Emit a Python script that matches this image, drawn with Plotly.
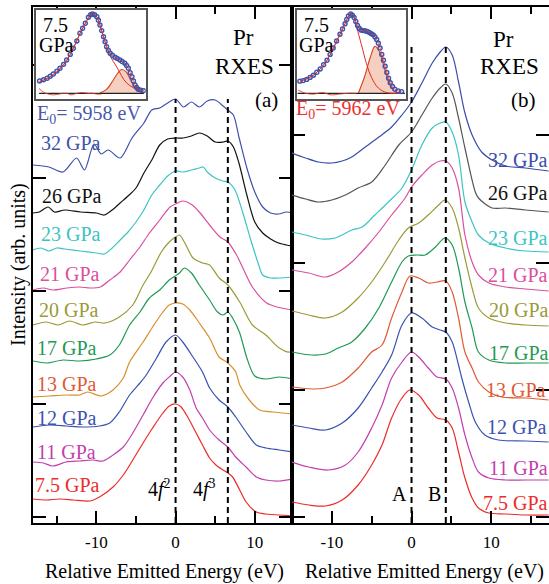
import plotly.graph_objects as go

W, H = 549, 584
FONT = "Liberation Serif, Times New Roman, DejaVu Serif, serif"

# ---------------- Panel (a): E0 = 5958 eV ----------------
labels = ["32 GPa", "26 GPa", "23 GPa", "21 GPa", "20 GPa", "17 GPa", "13 GPa", "12 GPa", "11 GPa", "7.5 GPa"]

a_E_32 = [-18, -16, -14.2, -12.5, -11.5, -10.3, -9.4, -8.5, -7, -5.5, -4, -3, -2, -1, 0, 1, 2, 3, 4, 5, 6, 6.6, 7.3, 8, 9, 10, 11, 12, 13, 14, 14.7]
a_I_32 = [358, 356, 351, 365, 353, 379, 369, 373, 365, 385, 400, 413, 415, 420, 424, 416, 421, 416, 422, 423, 417, 413, 408, 386, 355, 331, 316, 310, 309, 311, 310]
a_E_26 = [-18, -17.2, -16.1, -15.3, -14, -12, -10, -9, -8, -7, -6, -5, -4, -3, -2, -1, 0, 1, 2, 3, 4, 5, 6, 6.6, 7.3, 8, 9, 10, 11, 12, 13, 14, 14.7]
a_I_26 = [310, 311, 316, 311, 313, 311, 310, 308, 313, 320, 327, 335, 350, 363, 378, 384, 385, 385, 387, 390, 387, 381, 381, 382, 376, 360, 328, 301, 290, 284, 280, 278, 277]
a_E_23 = [-18, -17, -16, -15, -14, -12, -10, -9, -8, -7, -6, -5, -4, -3, -2, -1, 0, 1, 2, 3, 3.5, 4, 5, 6, 6.6, 7.5, 8.5, 9.5, 10.5, 11, 12, 13, 14.7]
a_I_23 = [273, 275, 272, 275, 274, 272, 270, 269, 275, 283, 291, 301, 313, 328, 338, 347, 352, 351, 353, 355, 356, 351, 345, 342, 341, 333, 310, 283, 258, 248, 245, 245, 246]
a_E_21 = [-18, -16.7, -15.5, -13.7, -12.1, -10.8, -9.5, -8.3, -7, -5.8, -4.5, -3.3, -2, -0.7, 0, 0.9, 2.1, 3.1, 4.3, 5.6, 6.6, 7.7, 8.5, 9.7, 11.5, 12.8, 14.7]
a_I_21 = [233, 235, 233, 235, 236, 235, 236, 243, 251, 263, 276, 290, 303, 316, 319, 322, 318, 310, 298, 286, 281, 268, 255, 236, 220, 216, 213]
a_E_20 = [-18, -16.3, -14.8, -13.4, -11.7, -10.2, -8.9, -7.1, -5.4, -4.1, -3.1, -1.8, -0.8, 0, 0.5, 1.3, 2.2, 3.4, 4.3, 5.5, 6.6, 8.1, 9.7, 11.4, 13.1, 14.4, 14.8]
a_I_20 = [198, 201, 198, 202, 198, 201, 200, 206, 218, 238, 251, 271, 281, 286, 288, 278, 265, 260, 258, 245, 238, 221, 198, 188, 175, 171, 175]
a_E_17 = [-18, -16.3, -14.2, -12.1, -10, -8.3, -7.1, -5.8, -4.5, -3.3, -2, -0.8, 0.5, 1.1, 2, 3, 4.3, 5.3, 6, 6.6, 7.2, 8.1, 9.0, 10.0, 11.4, 13.1, 14.8]
a_I_17 = [162, 160, 163, 162, 164, 168, 178, 198, 211, 225, 233, 243, 250, 255, 250, 238, 223, 211, 208, 211, 205, 190, 165, 147, 144, 146, 144]
a_E_13 = [-18, -15.9, -13.8, -12.1, -11.1, -9.4, -7.9, -6.6, -5.8, -4.1, -2.9, -1.6, -0.8, 0, 0.9, 1.8, 3.0, 4.3, 5.5, 6.6, 7.6, 8.1, 9.3, 10.6, 12.3, 14.8]
a_I_13 = [126, 127, 128, 128, 131, 127, 133, 145, 161, 181, 196, 211, 218, 220, 219, 213, 200, 185, 166, 160, 151, 138, 123, 113, 111, 109]
a_E_12 = [-18, -15.9, -13.8, -11.7, -9.6, -8.3, -7.1, -5.8, -4.5, -3.7, -2.4, -1.2, 0, 0.9, 2.2, 3.4, 4.3, 5.5, 6.6, 7.6, 8.9, 10.2, 11.4, 13.1, 14.8]
a_I_12 = [96, 98, 97, 96, 97, 100, 111, 128, 140, 148, 165, 181, 188, 181, 166, 151, 135, 123, 116, 106, 91, 78, 75, 73, 71]
a_E_11 = [-18, -16.7, -15.5, -13.8, -12.1, -10.4, -9.2, -7.9, -6.6, -5.4, -4.1, -2.9, -1.6, -0.8, 0, 0.9, 1.8, 2.6, 3.4, 4.3, 5.5, 6.6, 7.6, 8.9, 10.2, 11.4, 13.1, 14.8]
a_I_11 = [61, 60, 57, 61, 62, 63, 62, 68, 76, 90, 108, 125, 140, 146, 151, 146, 133, 115, 105, 93, 83, 76, 66, 56, 46, 43, 42, 44]
a_E_7 = [-18, -16.3, -14.6, -12.9, -10.8, -9.6, -7.9, -6.6, -5.4, -4.1, -2.9, -1.6, -0.8, 0, 0.7, 1.6, 2.6, 3.4, 4.3, 5.1, 6.0, 6.6, 7.2, 8.1, 8.9, 10.2, 11.4, 13.1, 14.8]
a_I_7 = [24, 23, 24, 23, 22, 26, 36, 48, 63, 80, 95, 110, 117, 119, 116, 105, 90, 78, 65, 58, 53, 50, 46, 33, 21, 11, 9, 8, 7]

# ---------------- Panel (b): E0 = 5962 eV ----------------
b_E_32 = [-15, -13.3, -11.7, -10, -8.7, -7.5, -5.8, -4.1, -2.5, -1.2, 0, 1.3, 2.6, 3.6, 4.3, 5.1, 5.9, 6.7, 7.6, 8.8, 10.1, 11.8, 14.3, 17.2]
b_I_32 = [370, 365, 361, 360, 362, 366, 376, 386, 396, 408, 421, 440, 460, 471, 476, 468, 441, 410, 388, 371, 363, 357, 355, 352]
b_E_26 = [-15, -13.3, -11.7, -10, -8.3, -6.7, -5, -3.3, -1.6, 0, 1.3, 2.6, 3.6, 4.3, 5.1, 5.9, 6.7, 8.0, 8.4, 10.1, 11.8, 14.3, 17.2]
b_I_26 = [328, 324, 321, 323, 328, 335, 341, 358, 378, 391, 408, 425, 435, 439, 430, 405, 375, 331, 325, 315, 315, 313, 311]
b_E_23 = [-15, -13.3, -11.3, -9.6, -7.5, -6.2, -4.6, -2.9, -1.2, 0, 1.3, 2.6, 3.6, 4.3, 5.1, 5.9, 6.7, 7.6, 8.4, 9.7, 11.8, 14.3, 17.2]
b_I_23 = [291, 288, 284, 285, 293, 296, 308, 321, 335, 353, 378, 395, 400, 401, 391, 368, 321, 301, 288, 280, 275, 272, 271]
b_E_21 = [-15, -12.9, -10.8, -9.2, -7.5, -5.8, -4.1, -2.5, -0.8, 0, 1.3, 2.6, 3.6, 4.3, 5.1, 5.9, 6.7, 7.6, 8.4, 9.7, 11.8, 14.3, 17.2]
b_I_21 = [253, 250, 246, 251, 261, 275, 291, 308, 325, 336, 348, 358, 362, 362, 355, 335, 288, 261, 248, 240, 236, 234, 232]
b_E_20 = [-15, -12.9, -10.8, -8.7, -6.7, -5.0, -3.3, -1.6, -0.4, 0.9, 2.1, 3.4, 4.2, 5.1, 5.9, 6.7, 7.6, 8.4, 9.7, 11.8, 14.3, 17.2]
b_I_20 = [212, 208, 205, 211, 225, 241, 261, 283, 295, 300, 308, 318, 323, 315, 295, 265, 235, 215, 205, 200, 198, 197]
b_E_17 = [-15, -12.5, -10.8, -9.2, -7.5, -5.8, -4.1, -2.5, -1.2, -0.4, 0.7, 1.7, 3.0, 4.2, 5.1, 5.9, 6.7, 7.6, 8.4, 9.7, 11.8, 14.3, 17.2]
b_I_17 = [171, 168, 169, 175, 181, 195, 215, 241, 261, 267, 268, 268, 276, 285, 278, 255, 221, 195, 171, 163, 160, 160, 160]
b_E_13 = [-15, -12.5, -10.8, -8.7, -6.7, -5.0, -3.7, -2.5, -1.2, -0.2, 0.9, 2.1, 3.2, 4.3, 5.1, 5.9, 6.7, 7.6, 8.4, 9.7, 11.3, 14.3, 17.2]
b_I_13 = [136, 134, 135, 141, 155, 171, 178, 205, 231, 247, 245, 240, 241, 242, 231, 205, 171, 155, 141, 131, 126, 125, 123]
b_E_12 = [-15, -12.9, -10.8, -8.7, -6.7, -5.0, -3.7, -2.5, -1.2, 0, 1.3, 2.6, 3.6, 4.3, 5.1, 5.9, 6.3, 7.2, 8.0, 9.2, 10.9, 14.3, 17.2]
b_I_12 = [98, 95, 93, 100, 115, 135, 151, 168, 198, 210, 205, 196, 193, 191, 181, 158, 145, 120, 101, 88, 83, 82, 81]
b_E_11 = [-15, -12.9, -10.4, -8.3, -6.7, -5, -3.7, -2.5, -1.2, 0, 0.9, 2.1, 3.2, 4.3, 5.1, 5.9, 6.7, 7.6, 8.4, 9.7, 11.8, 14.3, 17.2]
b_I_11 = [61, 56, 53, 58, 71, 95, 118, 145, 161, 171, 166, 155, 146, 144, 135, 115, 88, 65, 51, 45, 43, 43, 43]
b_E_7 = [-15, -12.9, -10.8, -8.7, -6.7, -5, -3.7, -2.5, -1.2, -0.2, 0.9, 2.1, 3.2, 4.3, 5.1, 5.9, 6.7, 7.6, 8.4, 9.7, 11.8, 14.3, 17.2]
b_I_7 = [21, 18, 17, 23, 38, 58, 78, 105, 125, 133, 128, 115, 105, 103, 95, 71, 45, 25, 15, 10, 9, 8, 8]

# ---------------- Insets (7.5 GPa fits) ----------------
ins_a_E = [-11.9, -11.0, -10.2, -9.5, -8.8, -8.0, -7.3, -6.5, -5.8, -5.0, -4.3, -3.5, -2.8, -2.2, -1.6, -0.9, -0.4, 0, 0.5, 1.0, 1.35, 1.7, 2.1, 2.5, 2.85, 3.2, 3.6, 4.0, 4.5, 5.1, 5.6, 6.2, 6.7, 7.3, 7.7, 8.1, 8.5, 8.9, 9.25, 9.6, 9.95, 10.3, 10.9, 11.5]
ins_a_I = [0.155, 0.17, 0.19, 0.215, 0.243, 0.28, 0.315, 0.365, 0.42, 0.49, 0.567, 0.66, 0.757, 0.82, 0.883, 0.958, 0.99, 1.0, 0.99, 0.966, 0.92, 0.861, 0.79, 0.714, 0.65, 0.588, 0.54, 0.504, 0.48, 0.454, 0.44, 0.42, 0.40, 0.378, 0.35, 0.315, 0.26, 0.209, 0.155, 0.105, 0.075, 0.05, 0.04, 0.033]
ins_a_fitA_E = [-12, -8.8, -5.8, -2.8, -1.2, 0, 1.0, 1.7, 2.5, 3.2, 4.0, 5.5, 7.7, 10.7, 11.5]
ins_a_fitA_I = [0.14, 0.23, 0.41, 0.75, 0.92, 1.0, 0.96, 0.86, 0.71, 0.59, 0.47, 0.33, 0.13, 0.03, 0.02]
ins_a_fitB_E = [1.7, 3.2, 4.7, 5.8, 6.6, 7.6, 8.6, 9.6, 10.7, 11.5]
ins_a_fitB_I = [0.008, 0.05, 0.168, 0.26, 0.30, 0.27, 0.168, 0.075, 0.02, 0.01]
ins_a_res_E = [-12, -11.2, -10.5, -9.5, -8.8, -7.5, -6.5, -5.5, -4.8, -3.5, -2.3, -1, 0, 1, 2]
ins_a_res_I = [0.06, 0.02, 0.0, -0.015, -0.02, -0.01, 0.0, -0.005, -0.02, 0.0, 0.01, 0.0, 0.0, -0.01, -0.01]

ins_b_E = [-9.0, -8.4, -7.8, -7.2, -6.6, -6.0, -5.4, -4.8, -4.2, -3.65, -3.1, -2.5, -1.9, -1.45, -1.0, -0.7, -0.4, 0, 0.3, 0.6, 0.9, 1.2, 1.5, 1.8, 2.15, 2.5, 2.9, 3.3, 3.65, 4.0, 4.3, 4.6, 4.9, 5.2, 5.5, 5.8, 6.1, 6.4, 6.7, 7.0, 7.4, 7.8, 8.4, 9.0]
ins_b_I = [0.153, 0.16, 0.175, 0.20, 0.228, 0.265, 0.307, 0.36, 0.416, 0.49, 0.57, 0.66, 0.745, 0.81, 0.876, 0.93, 0.974, 1.0, 0.985, 0.955, 0.905, 0.855, 0.82, 0.797, 0.79, 0.789, 0.78, 0.767, 0.75, 0.737, 0.71, 0.679, 0.63, 0.57, 0.49, 0.416, 0.34, 0.263, 0.19, 0.132, 0.085, 0.053, 0.03, 0.021]
ins_b_fitA_E = [-9.0, -6.6, -4.2, -1.9, -1.0, 0, 0.6, 1.06, 1.9, 2.8, 3.7, 4.9, 6.4, 9.0]
ins_b_fitA_I = [0.153, 0.228, 0.416, 0.745, 0.876, 1.0, 0.96, 0.833, 0.613, 0.372, 0.197, 0.066, 0.008, 0.0]
ins_b_fitB_E = [1.35, 2.5, 3.4, 4.3, 5.2, 6.1, 7.0, 7.8, 9.0]
ins_b_fitB_I = [0.0, 0.218, 0.438, 0.592, 0.504, 0.284, 0.109, 0.021, 0.0]
ins_b_res_E = [-9.3, -8.0, -6.5, -5.0, -3.5, -2.0, -0.5, 1.0]
ins_b_res_I = [0.04, 0.0, -0.01, 0.01, -0.02, -0.01, 0.0, 0.0]

a_ref_lines = [0, 6.6]
b_ref_lines = [0, 4.3]

a_curve_colors = ["#3f51a8", "#111111", "#3cc4c4", "#d9509e", "#9b9a36", "#1f9a52", "#d8902c", "#3a52b0", "#c23fae", "#ee2b2b"]
a_label_colors = ["#3f51a8", "#111111", "#3cc4c4", "#d9509e", "#9b9a36", "#1f9a52", "#e05a35", "#3a52b0", "#c23fae", "#ee2b2b"]
b_curve_colors = ["#3a4ea8", "#555555", "#3cc4c4", "#d9509e", "#9b9a36", "#1f9a52", "#e05a35", "#3a52b0", "#c23fae", "#ee2b2b"]
b_label_colors = ["#3a4ea8", "#111111", "#3cc4c4", "#d9509e", "#9b9a36", "#1f9a52", "#e05a35", "#3a52b0", "#c23fae", "#ee2b2b"]

a_E = [a_E_32, a_E_26, a_E_23, a_E_21, a_E_20, a_E_17, a_E_13, a_E_12, a_E_11, a_E_7]
a_I = [a_I_32, a_I_26, a_I_23, a_I_21, a_I_20, a_I_17, a_I_13, a_I_12, a_I_11, a_I_7]
b_E = [b_E_32, b_E_26, b_E_23, b_E_21, b_E_20, b_E_17, b_E_13, b_E_12, b_E_11, b_E_7]
b_I = [b_I_32, b_I_26, b_I_23, b_I_21, b_I_20, b_I_17, b_I_13, b_I_12, b_I_11, b_I_7]

# label positions (pixels) -- layout only
a_label_x = [39, 40, 39, 38, 37, 35, 35, 35, 35, 33]
a_label_y = [143, 196, 234, 274, 310, 348, 384, 418, 452, 485]
b_label_x = [486, 486, 486, 486, 487, 487, 484, 485, 487, 481]
b_label_y = [160, 193, 238, 275, 310, 353, 390, 427, 468, 503]


def px(x):
    return x / W


def py(y):
    return (H - y) / H


fig = go.Figure()

for E, I, c in zip(a_E, a_I, a_curve_colors):
    fig.add_trace(go.Scatter(x=E, y=I, mode="lines", line=dict(color=c, width=1.2, shape="spline", smoothing=0.8),
                             xaxis="x", yaxis="y", showlegend=False, hoverinfo="skip"))
for E, I, c in zip(b_E, b_I, b_curve_colors):
    fig.add_trace(go.Scatter(x=E, y=I, mode="lines", line=dict(color=c, width=1.2, shape="spline", smoothing=0.9),
                             xaxis="x2", yaxis="y2", showlegend=False, hoverinfo="skip"))


def add_inset(xa, ya, dE, dI, aE, aI, bE, bI, rE, rI, xr):
    fig.add_trace(go.Scatter(x=bE, y=bI, mode="lines", fill="tozeroy", fillcolor="rgba(238,175,150,0.6)",
                             line=dict(color="#d8401e", width=1.1, shape="spline"), xaxis=xa, yaxis=ya,
                             showlegend=False, hoverinfo="skip"))
    fig.add_trace(go.Scatter(x=xr, y=[0, 0], mode="lines", line=dict(color="#222222", width=1.2),
                             xaxis=xa, yaxis=ya, showlegend=False, hoverinfo="skip"))
    fig.add_trace(go.Scatter(x=rE, y=rI, mode="lines", line=dict(color="#e03a20", width=0.9, shape="spline"),
                             xaxis=xa, yaxis=ya, showlegend=False, hoverinfo="skip"))
    fig.add_trace(go.Scatter(x=aE, y=aI, mode="lines", line=dict(color="#e82a1a", width=1.0, shape="spline"),
                             xaxis=xa, yaxis=ya, showlegend=False, hoverinfo="skip"))
    fig.add_trace(go.Scatter(x=dE, y=dI, mode="markers",
                             marker=dict(symbol="circle-open", size=4, color="#3a55b0", line=dict(width=1.4)),
                             xaxis=xa, yaxis=ya, showlegend=False, hoverinfo="skip"))
    fig.add_trace(go.Scatter(x=dE, y=dI, mode="lines", line=dict(color="#e82a1a", width=0.7, shape="spline"),
                             xaxis=xa, yaxis=ya, showlegend=False, hoverinfo="skip"))


add_inset("x3", "y3", ins_a_E, ins_a_I, ins_a_fitA_E, ins_a_fitA_I, ins_a_fitB_E, ins_a_fitB_I,
          ins_a_res_E, ins_a_res_I, [-12, 11.6])
add_inset("x4", "y4", ins_b_E, ins_b_I, ins_b_fitA_E, ins_b_fitA_I, ins_b_fitB_E, ins_b_fitB_I,
          ins_b_res_E, ins_b_res_I, [-9.4, 9.6])

# dashed reference lines
shapes = []
for xv in a_ref_lines:
    shapes.append(dict(type="line", xref="x", yref="y", x0=xv, x1=xv, y0=0, y1=424,
                       line=dict(color="black", width=2, dash="6px,4px")))
for xv in b_ref_lines:
    shapes.append(dict(type="line", xref="x2", yref="y2", x0=xv, x1=xv, y0=0, y1=480,
                       line=dict(color="black", width=2, dash="6px,4px")))

ydom = [py(523), py(7)]
common_x = dict(showgrid=False, zeroline=False, showline=True, linecolor="black", linewidth=1.5,
                mirror="ticks", ticks="inside", ticklen=12, tickwidth=1.5, tickcolor="black",
                tickvals=[-10, 0, 10], ticktext=["-10", "0", "10"],
                tickfont=dict(family=FONT, size=17, color="black"), ticklabelstandoff=3,
                minor=dict(ticks="inside", ticklen=7, tickwidth=1.5, tickcolor="black"))
common_y = dict(showgrid=False, zeroline=False, range=[0, 516], domain=ydom, ticks="inside", ticklen=13,
                tickwidth=1.5, tickcolor="black", showticklabels=False)
inset_ax = dict(showgrid=False, zeroline=False, showline=True, linecolor="#555555", linewidth=1.5,
                mirror=True, ticks="", showticklabels=False)

fig.update_layout(
    width=W, height=H, margin=dict(l=0, r=0, t=0, b=0),
    paper_bgcolor="white", plot_bgcolor="white",
    font=dict(family=FONT, color="black"),
    xaxis=dict(common_x, domain=[px(33), px(292)], range=[-18, 14.7], anchor="y",
               minor=dict(common_x["minor"], tickvals=[-15, -5, 5])),
    yaxis=dict(common_y, anchor="x", showline=True, linecolor="black", linewidth=1.5, mirror="ticks",
               tickvals=[6, 119, 232, 345, 458]),
    xaxis2=dict(common_x, domain=[px(292), 1.0], range=[-15, 17.25], anchor="y2",
                minor=dict(common_x["minor"], tickvals=[-5, 5, 15])),
    yaxis2=dict(common_y, anchor="x2", showline=True, linecolor="black", linewidth=1.5,
                tickvals=[6, 133, 260, 388]),
    yaxis5=dict(common_y, anchor="x2", overlaying="y2", side="right", showline=False,
                tickvals=[6, 133, 260, 388]),
    xaxis3=dict(inset_ax, domain=[px(36), px(145.7)], range=[-12.7, 12.0], anchor="y3"),
    yaxis3=dict(inset_ax, domain=[py(99), py(10)], range=[-0.072, 1.05], anchor="x3"),
    xaxis4=dict(inset_ax, domain=[px(296.7), px(406)], range=[-9.56, 9.79], anchor="y4"),
    yaxis4=dict(inset_ax, domain=[py(99), py(10)], range=[-0.072, 1.05], anchor="x4"),
    shapes=shapes,
)

# empty trace to activate the overlaying right-side tick axis of panel (b)
fig.add_trace(go.Scatter(x=[None], y=[None], xaxis="x2", yaxis="y5", showlegend=False, hoverinfo="skip"))

ann = []


def text(t, x, y, size=20, color="black", xanchor="center", angle=0):
    ann.append(dict(text=t, x=px(x), y=py(y), xref="paper", yref="paper", showarrow=False,
                    xanchor=xanchor, yanchor="middle", textangle=angle,
                    font=dict(family=FONT, size=size, color=color)))


for lab, lx, ly, c in zip(labels, a_label_x, a_label_y, a_label_colors):
    text(lab, lx, ly, 20, c, "left")
for lab, lx, ly, c in zip(labels, b_label_x, b_label_y, b_label_colors):
    text(lab, lx, ly, 20, c, "left")

text("E<sub>0</sub>= 5958 eV", 35, 114, 20, "#4a5aa8", "left")
text("E<sub>0</sub>= 5962 eV", 294, 110, 20, "#ee3030", "left")
text("Pr", 243, 37.5, 23)
text("RXES", 244, 66, 23)
text("(a)", 266, 99.5, 21)
text("Pr", 503, 39.5, 23)
text("RXES", 509, 66, 23)
text("(b)", 523, 99.5, 21)
text("7.5", 41, 25, 20, "black", "left")
text("GPa", 37, 45, 20, "black", "left")
text("7.5", 302, 25, 20, "black", "left")
text("GPa", 297, 45, 20, "black", "left")
text("4<i>f</i><sup>2</sup>", 159, 488, 20)
text("4<i>f</i><sup>3</sup>", 204, 488, 20)
text("A", 399.5, 494, 20)
text("B", 434.5, 494, 20)
text("Intensity (arb. units)", 18, 265, 20, "black", "center", -90)
text("Relative Emitted Energy (eV)", 164, 571, 20)
text("Relative Emitted Energy (eV)", 424, 571, 20)

fig.update_layout(annotations=ann)

fig.write_html("out.html")
